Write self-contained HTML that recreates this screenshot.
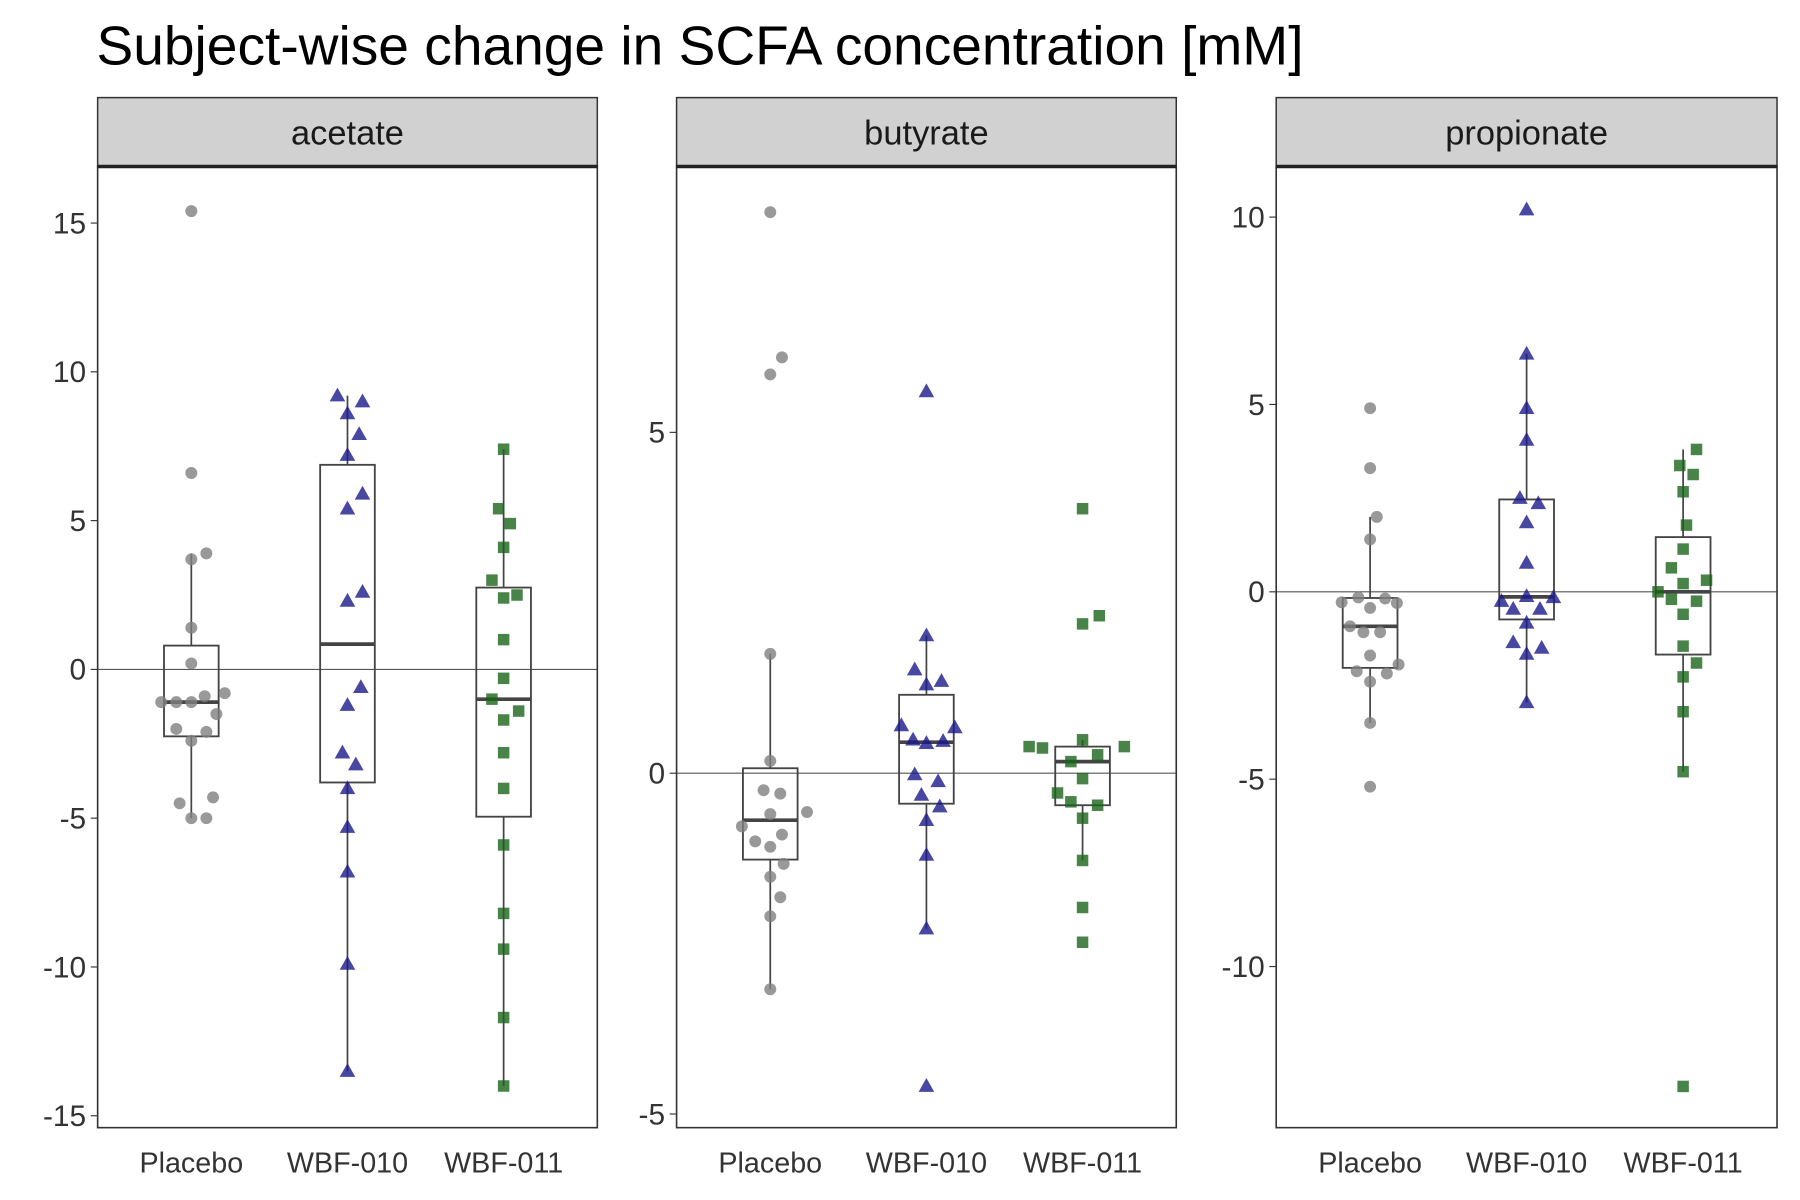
<!DOCTYPE html>
<html><head><meta charset="utf-8">
<style>
html,body{margin:0;padding:0;background:#fff;}
svg{display:block;font-family:"Liberation Sans",Arial,sans-serif;}
</style></head>
<body>
<svg id="chart" width="1800" height="1200" viewBox="0 0 1567 1045" preserveAspectRatio="none" xmlns="http://www.w3.org/2000/svg">
<text x="84" y="56" font-size="48" fill="#000">Subject-wise change in SCFA concentration [mM]</text>
</svg>
<script>
const categories = ["Placebo","WBF-010","WBF-011"];
const facets = ["acetate","butyrate","propionate"];
// values (mM)
const acetatePlacebo = [15.4,6.6,3.9,3.7,1.4,0.2,-0.8,-0.9,-1.1,-1.1,-1.1,-1.5,-2.0,-2.1,-2.4,-4.3,-4.5,-5.0,-5.0];
const acetate010 = [9.2,9.0,8.6,7.9,7.2,5.9,5.4,2.6,2.3,-0.6,-1.2,-2.8,-3.2,-4.0,-5.3,-6.8,-9.9,-13.5];
const acetate011 = [7.4,5.4,4.9,4.1,3.0,2.5,2.4,1.0,-0.3,-1.0,-1.4,-1.7,-2.8,-4.0,-5.9,-8.2,-9.4,-11.7,-14.0];
const butyratePlacebo = [8.23,6.1,5.85,1.75,0.18,-0.25,-0.3,-0.78,-0.6,-0.57,-1.0,-0.9,-1.08,-1.33,-1.52,-1.82,-2.1,-3.17];
const butyrate010 = [5.6,2.02,1.52,1.35,1.3,0.7,0.67,0.44,0.49,0.47,-0.02,-0.12,-0.32,-0.49,-0.69,-1.2,-2.28,-4.59];
const butyrate011 = [3.88,2.31,2.19,0.39,0.37,0.39,0.49,0.27,0.17,-0.29,-0.08,-0.42,-0.47,-0.66,-1.28,-1.97,-2.48];
const propionatePlacebo = [4.9,3.3,2.0,1.4,-0.28,-0.15,-0.43,-0.18,-0.3,-0.92,-1.08,-1.08,-1.7,-1.94,-2.12,-2.18,-2.4,-3.5,-5.2];
const propionate010 = [10.2,6.35,4.9,4.05,2.5,2.36,1.85,0.77,-0.25,-0.12,-0.15,-0.46,-0.46,-0.83,-1.35,-1.5,-1.66,-2.95];
const propionate011 = [3.8,3.37,3.13,2.67,1.78,1.14,0.64,0.31,0.22,0,-0.2,-0.25,-0.6,-1.45,-1.9,-2.27,-3.2,-4.8,-13.2];
// horizontal jitter (category units)
const jitterAP = [0,0,0.09,0,0,0,0.2,0.08,-0.18,-0.09,0,0.15,-0.09,0.09,0,0.13,-0.07,0,0.09];
const jitterA1 = [-0.06,0.09,0,0.07,0,0.09,0,0.09,0,0.08,0,-0.03,0.05,0,0,0,0,0];
const jitterA2 = [0,-0.03,0.04,0,-0.07,0.08,0,0,0,-0.07,0.09,0,0,0,0,0,0,0,0];
const jitterBP = [0,0.07,0,0,0,-0.04,0.06,-0.17,0,0.22,-0.09,0.07,0,0.08,0,0.06,0,0];
const jitterB1 = [0,0,-0.07,0.09,0,-0.15,0.17,0,-0.08,0.1,-0.07,0.07,-0.03,0.08,0,0,0,0];
const jitterB2 = [0,0.1,0,-0.32,-0.24,0.25,0,0.09,-0.07,-0.15,0,-0.07,0.09,0,0,0,0];
const jitterPP = [0,0,0.04,0,-0.17,-0.07,0,0.09,0.16,-0.12,-0.04,0.06,0,0.17,-0.08,0.1,0,0,0];
const jitterP1 = [0,0,0,0,-0.04,0.07,0,0,-0.15,0,0.16,-0.08,0.08,0,-0.08,0.09,0,0];
const jitterP2 = [0.08,-0.02,0.06,0,0.02,0,-0.07,0.14,0,-0.15,-0.07,0.08,0,0,0.08,0,0,0,0];
const ticksA = [15,10,5,0,-5,-10,-15];
const ticksB = [5,0,-5];
const ticksP = [10,5,0,-5,-10];

const svgEl = document.getElementById('chart');
const NS = 'http://www.w3.org/2000/svg';
function mk(tag, attrs, parent){const e=document.createElementNS(NS,tag);for(const k in attrs)e.setAttribute(k,attrs[k]);(parent||svgEl).appendChild(e);return e;}
function quant(arr,p){const s=[...arr].sort((a,b)=>a-b);const h=(s.length-1)*p;const lo=Math.floor(h);return s[lo]+(h-lo)*((s[Math.min(lo+1,s.length-1)])-s[lo]);}

const panels = [
 {name:'acetate', x0:85, x1:520, yMin:-15.4, yMax:16.9, ticks:ticksA, series:[[acetatePlacebo,jitterAP],[acetate010,jitterA1],[acetate011,jitterA2]]},
 {name:'butyrate', x0:589, x1:1024, yMin:-5.2, yMax:8.9, ticks:ticksB, series:[[butyratePlacebo,jitterBP],[butyrate010,jitterB1],[butyrate011,jitterB2]]},
 {name:'propionate', x0:1111, x1:1547, yMin:-14.3, yMax:11.35, ticks:ticksP, series:[[propionatePlacebo,jitterPP],[propionate010,jitterP1],[propionate011,jitterP2]]}
];
const plotTop=145, plotBot=982;
const colors=['rgba(128,128,128,0.8)','rgba(26,26,139,0.8)','rgba(26,100,26,0.8)'];

panels.forEach(p=>{
  const g=mk('g',{});
  
  
  const y=v=>plotBot-(v-p.yMin)/(p.yMax-p.yMin)*(plotBot-plotTop);
  const unit=(p.x1-p.x0)/3.2;
  const xc=i=>p.x0+unit*(i+0.6);
  const strip=mk('rect',{x:p.x0,y:85,width:p.x1-p.x0,height:60,fill:'#d1d1d1',stroke:'#333','stroke-width':1.3},g);
  
  
  const st=mk('text',{x:(p.x0+p.x1)/2,y:126,'font-size':30,'text-anchor':'middle',fill:'#1a1a1a'},g);
  st.textContent=p.name;
  
  
  mk('line',{x1:p.x0,x2:p.x1,y1:y(0),y2:y(0),stroke:'#555','stroke-width':1},g);
  p.ticks.forEach(t=>{
    mk('line',{x1:p.x0-6,x2:p.x0,y1:y(t),y2:y(t),stroke:'#333','stroke-width':1},g);
    const tl=mk('text',{x:p.x0-10,y:y(t)+9,'font-size':26,'text-anchor':'end',fill:'#333'},g);
    tl.textContent=String(t);
    
    
  });
  p.series.forEach((s,i)=>{
    const vals=s[0], jit=s[1];
    const q1=quant(vals,0.25), med=quant(vals,0.5), q3=quant(vals,0.75), iqr=q3-q1;
    const inr=vals.filter(v=>v>=q1-1.5*iqr && v<=q3+1.5*iqr);
    const wlo=Math.min(...inr), whi=Math.max(...inr);
    const cx=xc(i), bw=unit*0.35;
    mk('line',{x1:cx,x2:cx,y1:y(whi),y2:y(q3),stroke:'#444','stroke-width':1.5},g);
    mk('line',{x1:cx,x2:cx,y1:y(q1),y2:y(wlo),stroke:'#444','stroke-width':1.5},g);
    const box=mk('rect',{x:cx-bw/2,y:y(q3),width:bw,height:y(q1)-y(q3),fill:'none',stroke:'#444','stroke-width':1.6},g);
    
    
    mk('line',{x1:cx-bw/2,x2:cx+bw/2,y1:y(med),y2:y(med),stroke:'#444','stroke-width':3.2},g);
    vals.forEach((v,k)=>{
      const px=cx+(jit[k]||0)*unit*1.07, py=y(v);
      let m;
      if(i===0) m=mk('circle',{cx:px,cy:py,r:5.2,fill:colors[0]},g);
      else if(i===1) m=mk('polygon',{points:`${px},${py-7} ${px-6.8},${py+5} ${px+6.8},${py+5}`,fill:colors[1]},g);
      else m=mk('rect',{x:px-5,y:py-5,width:10,height:10,fill:colors[2]},g);
      
      
    });
    const xl=mk('text',{x:cx,y:1021,'font-size':25,'text-anchor':'middle',fill:'#333'},g);
    xl.textContent=categories[i];
    
    
  });
  mk('rect',{x:p.x0,y:plotTop,width:p.x1-p.x0,height:plotBot-plotTop,fill:'none',stroke:'#333','stroke-width':1.4},g);
  mk('line',{x1:p.x0,x2:p.x1,y1:plotTop,y2:plotTop,stroke:'#222','stroke-width':3},g);
});
</script>
</body></html>
